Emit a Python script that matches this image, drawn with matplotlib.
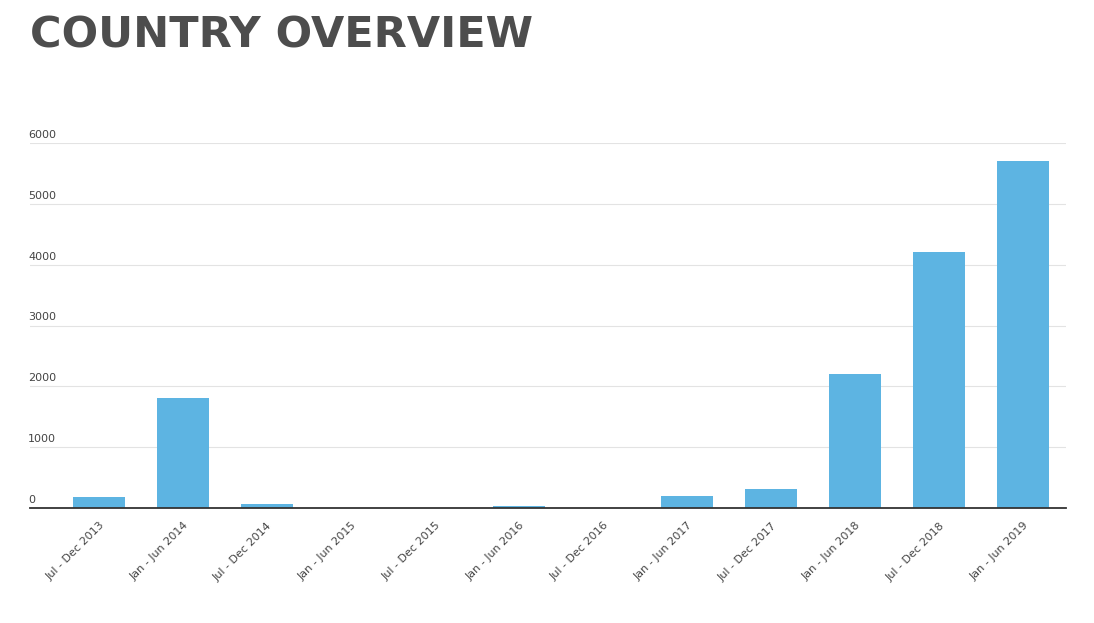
import matplotlib
matplotlib.use("Agg")
import matplotlib.pyplot as plt
import matplotlib.transforms as mtransforms

categories = ["Jul - Dec 2013", "Jan - Jun 2014", "Jul - Dec 2014", "Jan - Jun 2015",
              "Jul - Dec 2015", "Jan - Jun 2016", "Jul - Dec 2016", "Jan - Jun 2017",
              "Jul - Dec 2017", "Jan - Jun 2018", "Jul - Dec 2018", "Jan - Jun 2019"]
values = [180, 1810, 65, 0, 0, 40, 0, 200, 310, 2200, 4210, 5710]
yticks = [0, 1000, 2000, 3000, 4000, 5000, 6000]

W, H = 1094, 623
fig = plt.figure(figsize=(W/100, H/100), dpi=100)
ax = fig.add_axes([30/W, (H-508)/H, (1066-30)/W, (508-143)/H])
x = list(range(len(categories)))
ax.bar(x, values, width=0.62, color="#5db4e2", zorder=2)
ax.set_xlim(-0.82, 11.51)
ax.set_ylim(0, 6000)
for t in yticks[1:]:
    ax.axhline(t, color="#e3e3e3", lw=0.8, zorder=1)
for s in ["top", "right", "left"]:
    ax.spines[s].set_visible(False)
ax.spines["bottom"].set_color("#333333")
ax.spines["bottom"].set_linewidth(1.3)
ax.set_yticks([])
ax.set_xticks(x)
ax.set_xticklabels(categories, rotation=45, ha="right", rotation_mode="anchor",
                   fontsize=8, color="#444444")
ax.tick_params(axis="x", length=0, pad=9)
trans = mtransforms.blended_transform_factory(fig.transFigure, ax.transData)
for t in yticks:
    ax.text(28/W, t + 50, str(t), transform=trans, fontsize=8, color="#444444",
            ha="left", va="bottom")
fig.text(30/W, (H-36)/H, "COUNTRY OVERVIEW", fontsize=31, fontweight="bold",
         family=["Liberation Sans Narrow", "DejaVu Sans"],
         color="#4d4d4d", ha="left", va="center")
fig.savefig("out.png", dpi=100, facecolor="white")
